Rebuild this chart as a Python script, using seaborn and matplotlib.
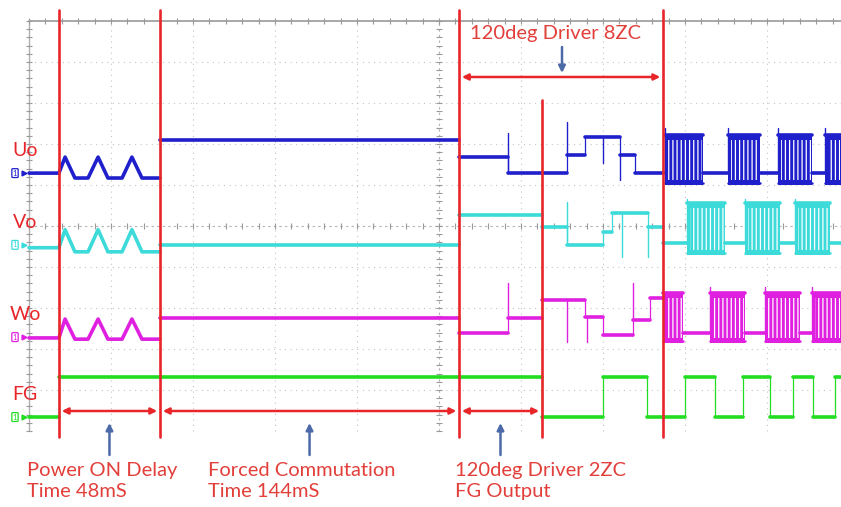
import numpy as np
import pandas as pd
import matplotlib
matplotlib.use("Agg")
import matplotlib.pyplot as plt
import seaborn as sns

# scope capture scale: 40 ms per division horizontally, 41 px per division vertically
PX_PER_MS = 2.05
PX_PER_DIV = 41.0
X0_PX, Y0_PX = 29, 226          # left edge of graticule, centre line
W_PX, H_PX = 841, 507

channels = ["Uo", "Vo", "Wo", "FG"]
ground = {"Uo": 1.29, "Vo": -0.46, "Wo": -2.71, "FG": -4.66}      # div
colors = {"Uo": "#1f1fcc", "Vo": "#3ddada", "Wo": "#e020e0", "FG": "#22dd22"}

# power-on: three little triangles on the motor outputs
start_t = [0, 14.6, 17.6, 22.4, 28.8, 33.7, 38.5, 45.4, 50.2, 55.1, 63.9]
up_start = [0, 0, 0.39, -0.12, -0.12, 0.39, -0.12, -0.12, 0.39, -0.12, -0.12]
vo_start = [-0.07, -0.07, 0.37, -0.17, -0.17, 0.37, -0.17, -0.17, 0.37, -0.17, -0.17]
wo_start = [-0.02, -0.02, 0.44, -0.05, -0.05, 0.44, -0.05, -0.05, 0.44, -0.05, -0.05]

# flat levels (t0 ms, t1 ms, level div above channel ground)
up_seg = [(63.9, 209.8, 0.80), (209.8, 233.7, 0.39), (233.7, 262.4, 0.00),
          (262.4, 271.2, 0.44), (271.2, 288.3, 0.88), (288.3, 295.6, 0.44),
          (295.6, 310.2, 0.00), (328.8, 341.0, 0.00), (356.6, 365.4, 0.00),
          (382.0, 388.3, 0.00)]
vo_seg = [(63.9, 209.8, 0.00), (209.8, 250.2, 0.73), (250.2, 262.4, 0.44),
          (262.4, 280.0, 0.00), (280.0, 284.4, 0.32), (284.4, 301.9, 0.78),
          (301.9, 309.3, 0.44), (309.3, 321.0, 0.05), (339.5, 349.3, 0.05),
          (366.3, 373.7, 0.05), (390.7, 396.1, 0.05)]
wo_seg = [(63.9, 209.8, 0.46), (209.8, 233.7, 0.10), (233.7, 250.2, 0.46),
          (250.2, 271.2, 0.90), (271.2, 280.0, 0.49), (280.0, 294.6, 0.05),
          (294.6, 302.9, 0.41), (302.9, 309.3, 0.95), (319.0, 332.2, 0.10),
          (349.3, 359.0, 0.10), (376.1, 382.0, 0.10)]
fg_seg = [(0, 14.6, 0), (14.6, 250.2, 0.98), (250.2, 280.0, 0), (280.0, 301.5, 0.98),
          (301.5, 320.0, 0), (320.0, 334.6, 0.98), (334.6, 348.3, 0),
          (348.3, 361.5, 0.98), (361.5, 372.7, 0), (372.7, 382.4, 0.98),
          (382.4, 393.2, 0), (393.2, 396.1, 0.98)]

# PWM chopped blocks (t0, t1) and their high / low levels
up_pwm = [(310.2, 328.8), (341.0, 356.6), (365.4, 382.0), (388.3, 396.1)]
vo_pwm = [(321.0, 339.5), (349.3, 366.3), (373.7, 390.7)]
wo_pwm = [(309.3, 319.0), (332.2, 349.3), (359.0, 376.1), (382.0, 396.1)]
pwm_hi = {"Uo": 0.93, "Vo": 1.02, "Wo": 1.07}
pwm_lo = {"Uo": -0.29, "Vo": -0.24, "Wo": -0.15}

# thin switching spikes (t ms, tip level)
up_spk = [(233.7, 0.98), (262.4, 1.24), (280.0, 0.24), (288.3, -0.17),
          (310.2, 1.10), (341.0, 1.10), (365.4, 1.10), (388.3, 1.10)]
vo_spk = [(262.4, 1.05), (289.3, -0.29), (301.9, -0.29),
          (321.0, 1.12), (349.3, 1.12), (373.7, 1.12)]
wo_spk = [(233.7, 1.32), (262.4, -0.12), (272.2, -0.12), (294.6, 1.32),
          (332.2, 1.22), (359.0, 1.22), (382.0, 1.22)]

start = {"Uo": up_start, "Vo": vo_start, "Wo": wo_start, "FG": None}
segs = {"Uo": up_seg, "Vo": vo_seg, "Wo": wo_seg, "FG": fg_seg}
pwms = {"Uo": up_pwm, "Vo": vo_pwm, "Wo": wo_pwm, "FG": []}
spikes = {"Uo": up_spk, "Vo": vo_spk, "Wo": wo_spk, "FG": []}

# phase markers
events = [14.6, 63.9, 209.8, 250.2, 309.3]
phase_text = [("Power ON Delay\nTime 48mS", 14.6, 63.9),
              ("Forced Commutation\nTime 144mS", 63.9, 209.8),
              ("120deg Driver 2ZC\nFG Output", 209.8, 250.2)]
top_text = ("120deg Driver 8ZC", 209.8, 309.3)

RED = "#e8262a"
TXT_RED = "#e23f3a"
ARROW_BLUE = "#4d6aa8"
GRID = "#c4c4c4"

sns.set_style("white")
plt.rcParams["font.family"] = ["Lato", "DejaVu Sans"]
plt.rcParams["hatch.linewidth"] = 0.9


def tx(px):
    return (px - X0_PX) / PX_PER_MS


def ty(py):
    return (Y0_PX - py) / PX_PER_DIV


fig = plt.figure(figsize=(W_PX / 100, H_PX / 100), dpi=100)
ax = fig.add_axes([0, 0, 1, 1])
ax.set_xlim(tx(0), tx(W_PX))
ax.set_ylim(ty(H_PX), ty(0))
ax.axis("off")

# graticule
t_end = tx(W_PX)
for k in range(1, 10):
    ax.plot([40 * k, 40 * k], [-5, 5], color=GRID, lw=0.8, ls=(0, (1, 4)), zorder=0)
for k in range(-4, 5):
    ax.plot([0, t_end], [k, k], color=GRID, lw=0.8, ls=(0, (1, 4)), zorder=0)
ax.plot([0, t_end], [5, 5], color="#9a9a9a", lw=1.2, zorder=1)
ax.plot([0, 0], [-5, 5], color="#b0b0b0", lw=1.0, zorder=1)
ax.plot([0, t_end], [0, 0], color="#b5b5b5", lw=0.8, ls=(0, (2, 3)), zorder=0)
ax.plot([200, 200], [-5, 5], color="#b5b5b5", lw=0.8, ls=(0, (2, 3)), zorder=0)
xt = np.arange(0, t_end, 8)
yt = np.arange(-5, 5.01, 0.2)
for yy in (5, 0):
    ax.plot(xt, np.full_like(xt, yy), ls="none", marker="|", ms=4, color="#9a9a9a", mew=0.8)
for xx in (0, 200):
    ax.plot(np.full_like(yt, xx), yt, ls="none", marker="_", ms=4, color="#9a9a9a", mew=0.8)

# traces
for ch in channels:
    c = colors[ch]
    g = ground[ch]
    rows = []
    uid = 0
    if start[ch] is not None:
        for t, v in zip(start_t, start[ch]):
            rows.append((uid, t, g + v))
        uid += 1
    for t0, t1, v in segs[ch]:
        rows.append((uid, t0, g + v))
        rows.append((uid, t1, g + v))
        uid += 1
    df = pd.DataFrame(rows, columns=["seg", "t", "v"])
    sns.lineplot(data=df, x="t", y="v", units="seg", estimator=None, sort=False,
                 color=c, lw=2.6, legend=False, ax=ax, zorder=4)

    # thin edges between adjacent flat levels
    pieces = []
    if start[ch] is not None:
        pieces.append((start_t[0], start_t[-1], start[ch][-1]))
    pieces += list(segs[ch])
    for (a0, a1, av), (b0, b1, bv) in zip(pieces[:-1], pieces[1:]):
        if abs(a1 - b0) < 1e-6 and av != bv:
            ax.plot([a1, a1], [g + av, g + bv], color=c, lw=0.9, zorder=3)

    # PWM blocks
    for t0, t1 in pwms[ch]:
        lo, hi = g + pwm_lo[ch], g + pwm_hi[ch]
        ax.fill_between([t0, t1], lo, hi, color=c, lw=0, zorder=3)
        ax.fill_between([t0 + 1.5, t1 - 0.5], lo + 0.12, hi - 0.12, facecolor="none",
                        edgecolor="white", hatch="||||", lw=0, zorder=3.5)
        ax.plot([t0, t1], [hi, hi], color=c, lw=2.6, zorder=4)
        ax.plot([t0, t1], [lo + 0.05, lo + 0.05], color=c, lw=1.8, zorder=4)

    # spikes
    for t, tip in spikes[ch]:
        base = None
        for t0, t1, v in segs[ch]:
            if t0 - 1e-6 <= t <= t1 + 1e-6:
                base = v
        if base is None:
            base = pwm_hi[ch]
        ax.plot([t, t], [g + base, g + tip], color=c, lw=1.0, zorder=3)

    # channel label and ground marker
    ax.text(-2.0, g + 0.55, ch, color=RED, fontsize=14, ha="center", va="center", zorder=6)
    ax.text(tx(15), g, "1", color=c, fontsize=5.5, ha="center", va="center", zorder=6,
            bbox=dict(boxstyle="round,pad=0.12", fc="white", ec=c, lw=0.9))
    ax.plot(tx(24), g, marker=">", ms=3.5, color=c, zorder=6)

# phase marker lines
for i, t in enumerate(events):
    top = ty(100) if i == 3 else ty(10)
    ax.plot([t, t], [top, ty(437)], color=RED, lw=1.9, zorder=5)

arrow_y = ty(411)
for label, t0, t1 in phase_text:
    ax.annotate("", xy=(t1, arrow_y), xytext=(t0, arrow_y),
                arrowprops=dict(arrowstyle="<|-|>", color=RED, lw=1.8,
                                mutation_scale=9, shrinkA=2, shrinkB=2), zorder=5)
    mid = (t0 + t1) / 2
    ax.annotate("", xy=(mid, ty(423)), xytext=(mid, ty(455)),
                arrowprops=dict(arrowstyle="-|>", color=ARROW_BLUE, lw=1.8,
                                mutation_scale=10, shrinkA=0, shrinkB=0), zorder=5)

label, t0, t1 = top_text
ax.annotate("", xy=(t1, ty(77)), xytext=(t0, ty(77)),
            arrowprops=dict(arrowstyle="<|-|>", color=RED, lw=1.8,
                            mutation_scale=9, shrinkA=2, shrinkB=2), zorder=5)
ax.annotate("", xy=(tx(562), ty(73)), xytext=(tx(562), ty(47)),
            arrowprops=dict(arrowstyle="-|>", color=ARROW_BLUE, lw=1.8,
                            mutation_scale=10, shrinkA=0, shrinkB=0), zorder=5)
ax.text(tx(470), ty(33), label, color=TXT_RED, fontsize=14.5, ha="left", va="center")

text_x = [tx(27), tx(208), tx(455)]
for (label, t0, t1), x in zip(phase_text, text_x):
    ax.text(x, ty(481), label, color=TXT_RED, fontsize=14.5, ha="left", va="center",
            linespacing=1.35)

fig.savefig("out.png", dpi=100)
